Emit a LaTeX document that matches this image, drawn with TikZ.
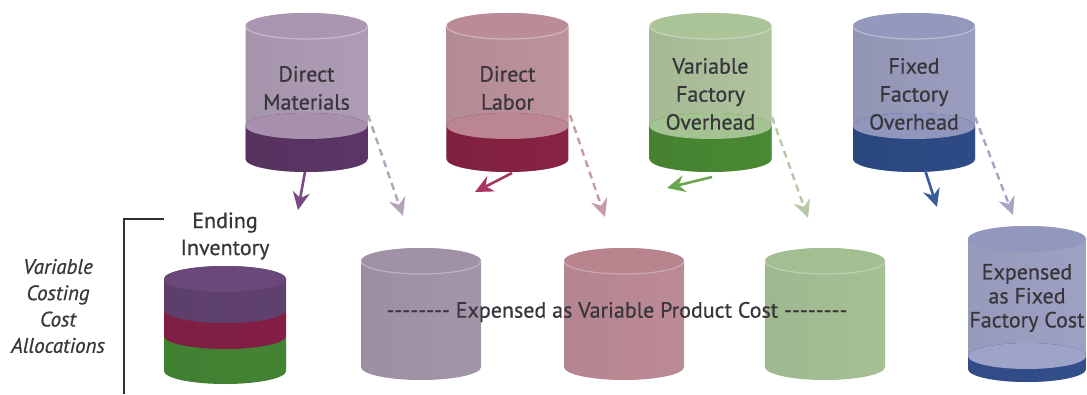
\documentclass[tikz,border=0pt]{standalone}
\usepackage{fontspec}
\setmainfont{PT Sans}[FakeBold=0.6]
\usetikzlibrary{arrows.meta}

% glass tints
\definecolor{dmGlass}{HTML}{BBA8C2}\definecolor{dmTop}{HTML}{AA96B1}
\definecolor{dmLiquid}{HTML}{6C3F77}\definecolor{dmSurface}{HTML}{A88FAE}
\definecolor{dlGlass}{HTML}{CB9EA8}\definecolor{dlTop}{HTML}{BA8C96}
\definecolor{dlLiquid}{HTML}{A0284F}\definecolor{dlSurface}{HTML}{BB8691}
\definecolor{voGlass}{HTML}{BBD2A9}\definecolor{voTop}{HTML}{AAC397}
\definecolor{voLiquid}{HTML}{57A23D}\definecolor{voSurface}{HTML}{A5C392}
\definecolor{foGlass}{HTML}{A6A9CC}\definecolor{foTop}{HTML}{9598BD}
\definecolor{foLiquid}{HTML}{35589E}\definecolor{foSurface}{HTML}{9196BC}
% result cylinders
\definecolor{pGlass}{HTML}{AE9FB4}\definecolor{pTop}{HTML}{A091A6}
\definecolor{rGlass}{HTML}{C8939F}\definecolor{rTop}{HTML}{B8858F}
\definecolor{gGlass}{HTML}{B0CC9F}\definecolor{gTop}{HTML}{A2BF91}
\definecolor{bGlass}{HTML}{A7ABCF}\definecolor{bTop}{HTML}{9397BD}
\definecolor{bLiquid}{HTML}{3B5CA4}\definecolor{bSurface}{HTML}{9EA3C9}
% inventory layers
\definecolor{invPurple}{HTML}{6D4A7D}\definecolor{invTop}{HTML}{6A487A}
\definecolor{invRed}{HTML}{9A2452}\definecolor{invGreen}{HTML}{4F9B3C}
% arrows
\definecolor{arDM}{HTML}{7B4A85}\definecolor{arDL}{HTML}{A83660}
\definecolor{arVO}{HTML}{6AA84F}\definecolor{arFO}{HTML}{3B5A9A}
\definecolor{daDM}{HTML}{B3A3BB}\definecolor{daDL}{HTML}{C79AA8}
\definecolor{daVO}{HTML}{B5C9A5}\definecolor{daFO}{HTML}{A5A5C8}
\definecolor{inkgray}{HTML}{38363B}

% side wall of a cylinder: centre x, top level, bottom level, radii, style
\newcommand{\cylbody}[6]{%
  \path[#6] ({#1-#4},#2) -- ({#1-#4},#3)
    arc[start angle=180,end angle=360,x radius=#4pt,y radius=#5pt]
    -- ({#1+#4},#2)
    arc[start angle=0,end angle=180,x radius=#4pt,y radius=#5pt] -- cycle;}
% a flat ellipse: centre x, level, radii, style
\newcommand{\cyldisc}[5]{%
  \path[#5] (#1,#2) ellipse[x radius=#3pt,y radius=#4pt];}
% glass tank partly filled with liquid
\newcommand{\sourcecyl}[5]{%
  \cylbody{#1}{368}{235}{61}{13}{left color=#2!88!black,middle color=#2!86!white,right color=#2!93!black}
  \cylbody{#1}{268}{235}{61}{13}{left color=#4!80!black,middle color=#4,right color=#4!85!black}
  \cyldisc{#1}{268}{61}{13}{fill=#5}
  \cyldisc{#1}{368}{61}{13}{fill=#3}
  \path[draw=white,opacity=.35,line width=1.2pt] ({#1-61},368)
    arc[start angle=180,end angle=360,x radius=61pt,y radius=13pt];}
% empty glass tank
\newcommand{\resultcyl}[3]{%
  \cylbody{#1}{133}{27}{60}{13}{left color=#2!90!black,middle color=#2!86!white,right color=#2!94!black}
  \cyldisc{#1}{133}{60}{13}{fill=#3}
  \path[draw=white,opacity=.3,line width=1.2pt] ({#1-60},133)
    arc[start angle=180,end angle=360,x radius=60pt,y radius=13pt];}

\tikzset{
  label22/.style={text=inkgray,align=center,inner sep=0pt,
    font=\fontsize{22}{28}\selectfont},
  tip/.style={-{Stealth[length=18pt,width=17pt,inset=6pt]}},
  flowarrow/.style={tip,line width=2.6pt},
  dasharrow/.style={tip,line width=2.4pt,dash pattern=on 7pt off 5pt},
  bracketline/.style={line width=2.4pt,draw=black!82},
}
\newcommand{\hy}{\mbox{-}}
\newcommand{\dashrun}{\hy\hy\hy\hy\hy\hy\hy\hy}

\begin{document}
\begin{tikzpicture}[x=1pt,y=1pt]
\useasboundingbox (0,0) rectangle (1087,394);
\fill[white] (0,0) rectangle (1087,394);

% ---- cost sources ----
\sourcecyl{306.5}{dmGlass}{dmTop}{dmLiquid}{dmSurface}
\sourcecyl{507.5}{dlGlass}{dlTop}{dlLiquid}{dlSurface}
\sourcecyl{710.5}{voGlass}{voTop}{voLiquid}{voSurface}
\sourcecyl{914}{foGlass}{foTop}{foLiquid}{foSurface}

\node[label22] (dm) at (306.5,306) {Direct\\Materials};
\node[label22] (dl) at (507.5,306) {Direct\\Labor};
\node[label22] (vo) at (710.5,300) {Variable\\Factory\\Overhead};
\node[label22] (fo) at (914,300) {Fixed\\Factory\\Overhead};

% ---- ending inventory (stacked layers) ----
\cylbody{225}{58}{23}{61}{13}{left color=invGreen!82!black,middle color=invGreen,right color=invGreen!85!black}
\cylbody{225}{84}{58}{61}{13}{left color=invRed!82!black,middle color=invRed,right color=invRed!85!black}
\cylbody{225}{115}{84}{61}{13}{left color=invPurple!85!black,middle color=invPurple!92!white,right color=invPurple!88!black}
\cyldisc{225}{115}{61}{13}{fill=invTop}
\node[label22,font=\fontsize{22}{27}\selectfont] (inv) at (225,158) {Ending\\Inventory};

% ---- expensed tanks ----
\resultcyl{421}{pGlass}{pTop}
\resultcyl{624}{rGlass}{rTop}
\resultcyl{825}{gGlass}{gTop}

\cylbody{1027}{155}{25}{59}{13}{left color=bGlass!90!black,middle color=bGlass!86!white,right color=bGlass!94!black}
\cylbody{1027}{38}{25}{59}{13}{left color=bLiquid!82!black,middle color=bLiquid,right color=bLiquid!85!black}
\cyldisc{1027}{38}{59}{13}{fill=bSurface}
\cyldisc{1027}{155}{59}{13}{fill=bTop}
\node[label22,font=\fontsize{22}{24}\selectfont] (fixedexp) at (1027,96)
  {Expensed\\as Fixed\\Factory Cost};

\node[label22] (varexp) at (617,82)
  {\dashrun\ Expensed as Variable Product Cost \dashrun};

% ---- left-hand bracket and caption ----
\coordinate (brTop) at (164,175);
\coordinate (brCorner) at (124,175);
\coordinate (brFoot) at (124,0);
\draw[bracketline] (brTop) -- (brCorner) -- (brFoot);
\node[label22,font=\itshape\fontsize{21}{26.3}\selectfont] (alloc) at (58,88)
  {Variable\\Costing\\Cost\\Allocations};

% ---- flows into inventory ----
\coordinate (dmOut) at (305,222); \coordinate (dmIn) at (298,184);
\coordinate (dlOut) at (512,221); \coordinate (dlIn) at (475,202);
\coordinate (voOut) at (712,217); \coordinate (voIn) at (667,206);
\coordinate (foOut) at (925,224); \coordinate (foIn) at (937,187);
\draw[flowarrow,arDM] (dmOut) -- (dmIn);
\draw[flowarrow,arDL] (dlOut) -- (dlIn);
\draw[flowarrow,arVO] (voOut) -- (voIn);
\draw[flowarrow,arFO] (foOut) -- (foIn);

% ---- flows to expense ----
\coordinate (dmSide) at (368,279); \coordinate (dmExp) at (403,178);
\coordinate (dlSide) at (570,279); \coordinate (dlExp) at (605,177);
\coordinate (voSide) at (772,277); \coordinate (voExp) at (808,176);
\coordinate (foSide) at (975,277); \coordinate (foExp) at (1013,179);
\draw[dasharrow,daDM] (dmSide) -- (dmExp);
\draw[dasharrow,daDL] (dlSide) -- (dlExp);
\draw[dasharrow,daVO] (voSide) -- (voExp);
\draw[dasharrow,daFO] (foSide) -- (foExp);
\end{tikzpicture}
\end{document}
